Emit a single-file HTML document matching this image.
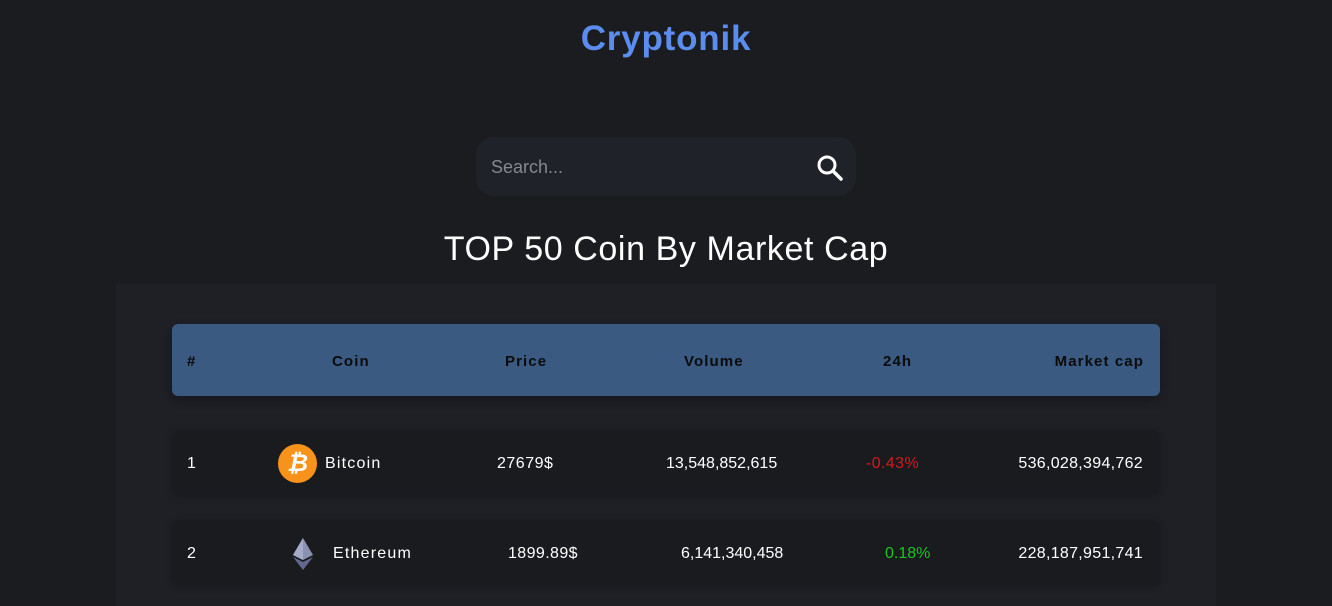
<!DOCTYPE html>
<html><head><meta charset="utf-8">
<style>
*{margin:0;padding:0;box-sizing:border-box}
body{width:1332px;height:606px;overflow:hidden;background:#1b1c20;font-family:"Liberation Sans",sans-serif;color:#fff;position:relative}
.a{position:absolute;white-space:nowrap}
.h{font-weight:bold;font-size:15px;color:#0b0b0b;top:353px;letter-spacing:1.1px}
.r1{top:455px;font-size:16px;letter-spacing:.4px}
.r2{top:545px;font-size:16px;letter-spacing:.4px}
.nm{letter-spacing:1.2px}
</style></head><body>
<div class="a" style="left:0;width:1332px;text-align:center;top:19px;font-size:35px;font-weight:bold;color:#5b8def;letter-spacing:.8px">Cryptonik</div>
<div class="a" style="left:476px;top:137px;width:380px;height:59px;border-radius:18px;background:#20222a">
 <span class="a" style="left:15px;top:20px;font-size:18px;color:#85888d">Search...</span>
 <svg class="a" style="left:340px;top:17px" width="28" height="28" viewBox="0 0 28 28"><circle cx="11" cy="11" r="8" fill="none" stroke="#fff" stroke-width="3"/><line x1="17" y1="17" x2="25" y2="25" stroke="#fff" stroke-width="3.5" stroke-linecap="round"/></svg>
</div>
<div class="a" style="left:0;width:1332px;text-align:center;top:230px;font-size:34px;letter-spacing:.6px">TOP 50 Coin By Market Cap</div>
<div class="a" style="left:116px;top:284px;width:1100px;height:322px;background:#1f2026"></div>
<div class="a" style="left:172px;top:324px;width:988px;height:72px;border-radius:6px;background:#3a5a82;box-shadow:0 4px 10px rgba(0,0,0,.3)"></div>
<span class="a h" style="left:187px">#</span>
<span class="a h" style="left:332px">Coin</span>
<span class="a h" style="left:505px">Price</span>
<span class="a h" style="left:684px">Volume</span>
<span class="a h" style="left:883px">24h</span>
<span class="a h" style="right:188px">Market cap</span>

<div class="a" style="left:172px;top:430px;width:988px;height:64px;border-radius:8px;background:#1a1b1f;box-shadow:0 2px 8px rgba(0,0,0,.25)"></div>
<span class="a r1" style="left:187px">1</span>
<div class="a" style="left:278px;top:444px;width:39px;height:39px;border-radius:50%;background:#f7931a;color:#fff;font-weight:bold;font-size:24px;text-align:center;line-height:39px;font-style:italic">₿</div>
<span class="a r1 nm" style="left:325px">Bitcoin</span>
<span class="a r1" style="left:497px;letter-spacing:.5px">27679$</span>
<span class="a r1" style="left:666px;letter-spacing:0">13,548,852,615</span>
<span class="a r1" style="left:866px;color:#d9181b">-0.43%</span>
<span class="a r1" style="right:189px;letter-spacing:.3px">536,028,394,762</span>

<div class="a" style="left:172px;top:520px;width:988px;height:64px;border-radius:8px;background:#1a1b1f;box-shadow:0 2px 8px rgba(0,0,0,.25)"></div>
<span class="a r2" style="left:187px">2</span>
<svg class="a" style="left:293px;top:538px" width="20" height="32" viewBox="0 0 20 32"><polygon points="10,0 20,17 10,22 0,17" fill="#8a92b2"/><polygon points="10,0 10,22 0,17" fill="#a6acc8"/><polygon points="10,24 20,19 10,32 0,19" fill="#62688f"/></svg>
<span class="a r2 nm" style="left:333px">Ethereum</span>
<span class="a r2" style="left:508px">1899.89$</span>
<span class="a r2" style="left:681px;letter-spacing:0">6,141,340,458</span>
<span class="a r2" style="left:885px;color:#1ec41e;letter-spacing:0">0.18%</span>
<span class="a r2" style="right:189px;letter-spacing:.3px">228,187,951,741</span>
</body></html>
